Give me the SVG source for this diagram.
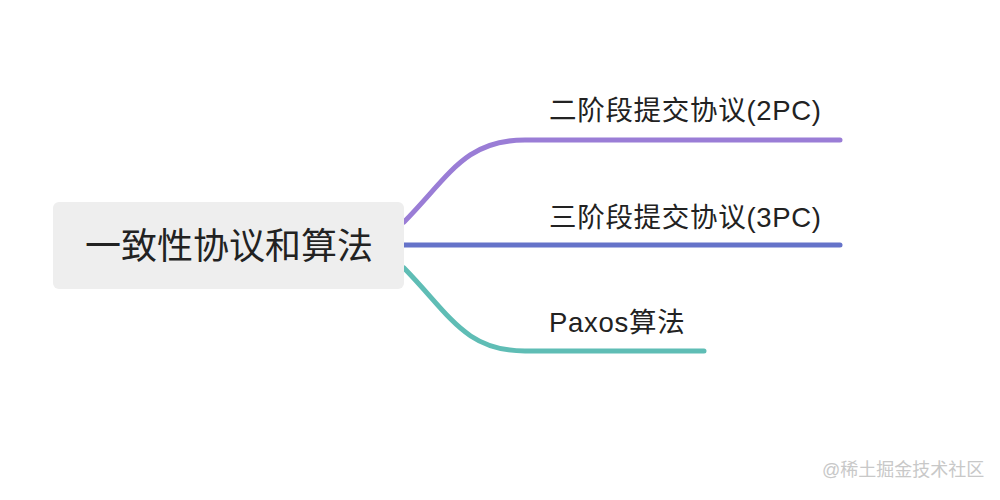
<svg xmlns="http://www.w3.org/2000/svg" width="1000" height="500" viewBox="0 0 1000 500">
<style>
.t{font-family:"Liberation Sans","Noto Sans CJK SC",sans-serif;fill:#222;}
.l{font-size:27.5px;letter-spacing:0.7px;}
.c{fill:none;stroke-width:5;stroke-linecap:round;}
</style>
<rect width="1000" height="500" fill="#ffffff"/>
<g id="connectors">
<path class="c" stroke="#9a7dd6" d="M404,222 C450,175 465,140 525,140 L840,140"/>
<path class="c" stroke="#6573c9" d="M404,245 L840,245"/>
<path class="c" stroke="#5fbdb5" d="M404,268 C450,315 465,351 525,351 L704,351"/>
</g>
<g id="root">
<rect x="53" y="202" width="351" height="87" rx="6" fill="#eeeeee"/>
<text class="t" x="229" y="259" font-size="36" text-anchor="middle">一致性协议和算法</text>
</g>
<g id="n1">
<text class="t l" x="549" y="120">二阶段提交协议(2PC)</text>
</g>
<g id="n2">
<text class="t l" x="549" y="227">三阶段提交协议(3PC)</text>
</g>
<g id="n3">
<text class="t l" x="549" y="332">Paxos算法</text>
</g>
<text x="822" y="476" font-size="18" fill="#c8c8c8" font-family="Liberation Sans,Noto Sans CJK SC,sans-serif">@稀土掘金技术社区</text>
</svg>
